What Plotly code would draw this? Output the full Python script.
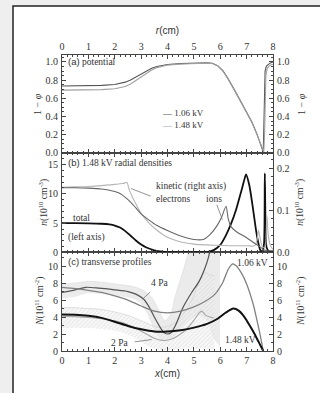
import plotly.graph_objects as go

# ---------------- Panel (a): potential ----------------
pot_x_106 = [0, 0.5, 1.0, 1.5, 2.0, 2.2, 2.4, 2.6, 2.8, 3.0, 3.2, 3.4, 3.6, 3.8, 4.0, 4.5, 5.0, 5.5, 5.7, 5.9, 6.1, 6.3, 6.6, 6.9, 7.2, 7.4, 7.55, 7.63, 7.65, 7.67, 7.7, 7.75, 7.82, 7.9, 8.0]
pot_y_106 = [0.735, 0.736, 0.738, 0.742, 0.752, 0.762, 0.778, 0.802, 0.835, 0.87, 0.903, 0.93, 0.95, 0.963, 0.972, 0.982, 0.988, 0.99, 0.985, 0.96, 0.905, 0.815, 0.66, 0.5, 0.34, 0.2, 0.09, 0.01, 0.25, 0.7, 0.9, 0.955, 0.975, 0.99, 1.0]
pot_x_148 = [0, 0.5, 1.0, 1.5, 2.0, 2.2, 2.4, 2.6, 2.8, 3.0, 3.2, 3.4, 3.6, 3.8, 4.0, 4.5, 5.0, 5.5, 5.7, 5.9, 6.1, 6.3, 6.6, 6.9, 7.2, 7.4, 7.55, 7.65, 7.68, 7.7, 7.73, 7.78, 7.85, 7.93, 8.0]
pot_y_148 = [0.69, 0.69, 0.692, 0.696, 0.705, 0.714, 0.73, 0.757, 0.795, 0.838, 0.878, 0.912, 0.938, 0.955, 0.966, 0.978, 0.985, 0.988, 0.984, 0.958, 0.9, 0.81, 0.655, 0.495, 0.335, 0.195, 0.085, 0.01, 0.2, 0.6, 0.85, 0.93, 0.955, 0.97, 0.975]

# ---------------- Panel (b): 1.48 kV radial densities ----------------
tot_x = [0, 0.5, 1.0, 1.5, 1.8, 2.0, 2.2, 2.4, 2.6, 2.8, 3.0, 3.2, 3.5, 3.8, 4.2, 5.0, 5.5, 5.75, 6.0, 6.2, 6.4, 6.6, 6.8, 6.95, 6.98, 7.1, 7.25, 7.35, 7.45, 7.52, 7.6, 7.66, 7.69, 7.72, 7.76, 7.85, 8.0]
tot_y = [5.0, 5.0, 4.98, 4.9, 4.78, 4.6, 4.25, 3.65, 2.85, 2.05, 1.35, 0.85, 0.38, 0.16, 0.07, 0.05, 0.08, 0.4, 1.3, 2.8, 4.8, 7.3, 10.5, 13.0, 13.3, 11.5, 7.2, 4.0, 1.5, 0.4, 0.15, 1.5, 13.5, 4.0, 0.8, 0.2, 0.1]

ion_x = [0, 0.5, 1.0, 1.5, 1.8, 2.0, 2.2, 2.4, 2.6, 2.8, 3.0, 3.3, 3.6, 4.0, 4.5, 5.0, 5.35, 5.6, 5.86, 6.05, 6.22, 6.3, 6.4, 6.6, 7.0, 7.3, 7.5, 7.62, 7.7, 7.8, 8.0]
ion_y = [0.154, 0.154, 0.153, 0.151, 0.148, 0.145, 0.140, 0.131, 0.120, 0.106, 0.092, 0.077, 0.064, 0.052, 0.039, 0.031, 0.031, 0.042, 0.062, 0.084, 0.110, 0.081, 0.062, 0.050, 0.035, 0.022, 0.014, 0.008, 0.005, 0.004, 0.004]

ele_x = [0, 0.5, 1.0, 1.5, 2.0, 2.3, 2.47, 2.52, 2.58, 2.7, 2.85, 3.0, 3.3, 3.6, 4.0, 4.5, 5.0, 5.5, 6.0, 6.5, 7.0, 7.3, 7.4, 7.45, 7.52, 7.6, 7.7, 7.74, 7.77, 7.82, 7.9, 8.0]
ele_y = [0.155, 0.156, 0.157, 0.159, 0.162, 0.164, 0.166, 0.155, 0.144, 0.128, 0.110, 0.093, 0.070, 0.053, 0.036, 0.025, 0.020, 0.018, 0.017, 0.016, 0.016, 0.016, 0.031, 0.053, 0.031, 0.014, 0.012, 0.042, 0.088, 0.042, 0.017, 0.007]

# ---------------- Panel (c): transverse profiles ----------------
kv106_x = [0, 0.5, 1.0, 1.5, 2.0, 2.5, 3.0, 3.5, 4.0, 4.5, 5.0, 5.4, 5.8, 6.1, 6.3, 6.47, 6.6, 6.8, 7.0, 7.25, 7.4, 7.5, 7.63]
kv106_y = [7.5, 7.35, 7.15, 6.9, 6.5, 6.0, 5.3, 4.7, 4.5, 4.7, 5.2, 5.8, 6.7, 8.1, 9.6, 10.25, 10.05, 9.2, 7.9, 5.5, 3.5, 2.1, 0.0]

kv148_x = [0, 0.5, 1.0, 1.5, 2.0, 2.5, 3.0, 3.5, 4.0, 4.5, 5.0, 5.5, 5.9, 6.2, 6.5, 6.7, 6.87, 7.0, 7.25, 7.45, 7.63]
kv148_y = [4.3, 4.28, 4.15, 3.9, 3.45, 2.95, 2.55, 2.3, 2.3, 2.45, 2.75, 3.2, 3.8, 4.5, 5.0, 4.75, 4.2, 3.6, 2.3, 1.1, 0.0]

pa4_x = [0, 0.5, 0.9, 1.4, 2.0, 2.5, 2.8, 3.1, 3.3, 3.5, 3.7, 3.85, 4.0, 4.15, 4.3, 4.6, 4.9, 5.2, 5.4, 5.55, 5.65]
pa4_y = [6.9, 7.2, 7.5, 7.4, 7.2, 7.0, 6.7, 6.1, 5.2, 4.0, 2.9, 2.2, 2.0, 2.2, 3.0, 5.2, 6.8, 8.2, 9.6, 11.0, 12.5]
pa4_band_x = [0, 0.5, 1.0, 1.5, 2.0, 2.5, 2.8, 3.1, 3.4, 3.7, 3.9, 4.1, 4.3, 4.6, 4.9, 5.2, 5.5, 5.75, 5.99]
pa4_hi = [7.9, 8.0, 8.2, 8.1, 7.9, 7.7, 7.5, 7.1, 6.3, 4.6, 3.6, 4.2, 6.5, 9.5, 12.0, 12.0, 12.0, 12.0, 12.0]
pa4_lo = [6.2, 6.4, 6.8, 6.7, 6.5, 6.3, 6.0, 5.1, 3.2, 1.5, 1.1, 1.3, 2.0, 3.0, 3.8, 4.2, 3.5, 1.5, 0.5]

pa2_x = [0, 0.5, 1.0, 1.5, 2.0, 2.5, 2.9, 3.2, 3.5, 3.8, 4.1, 4.4, 4.7, 5.0, 5.2, 5.3, 5.45, 5.6, 5.75]
pa2_y = [4.1, 4.05, 3.95, 3.8, 3.55, 3.1, 2.5, 2.0, 1.5, 1.25, 1.35, 1.8, 2.5, 3.6, 4.5, 4.7, 4.2, 4.0, 3.9]
pa2_band_x = [0, 0.5, 1.0, 1.5, 2.0, 2.5, 2.9, 3.2, 3.5, 3.8, 4.1, 4.4, 4.7, 5.0, 5.2, 5.4, 5.6, 5.78]
pa2_hi = [5.1, 5.1, 5.0, 4.9, 4.6, 4.2, 3.7, 3.3, 2.9, 2.8, 3.0, 3.6, 4.8, 6.5, 8.3, 9.2, 9.0, 8.8]
pa2_lo = [2.7, 2.7, 2.7, 2.6, 2.4, 1.9, 1.3, 0.7, 0.3, 0.1, 0.1, 0.2, 0.3, 0.3, 0.3, 0.3, 0.2, 0.2]

x_ticks = [0, 1, 2, 3, 4, 5, 6, 7, 8]

SERIF = "Liberation Serif"
SANS = "Liberation Sans"
AX = "#444"
TXT = "#333"

fig = go.Figure()

def line(x, y, xa, ya, color, width, shape="spline"):
    fig.add_trace(go.Scatter(x=x, y=y, xaxis=xa, yaxis=ya, mode="lines",
                             line=dict(color=color, width=width, shape=shape, smoothing=0.7),
                             showlegend=False, hoverinfo="skip"))

# Panel (c) bands
fig.add_trace(go.Scatter(x=pa4_band_x, y=pa4_lo, xaxis="x", yaxis="y", mode="lines",
                         line=dict(width=0, shape="spline"), showlegend=False, hoverinfo="skip"))
fig.add_trace(go.Scatter(x=pa4_band_x, y=pa4_hi, xaxis="x", yaxis="y", mode="lines",
                         line=dict(width=0.6, color="#dcdcdc", shape="spline"), fill="tonexty",
                         fillcolor="rgba(205,205,205,0.4)", showlegend=False, hoverinfo="skip"))
fig.add_trace(go.Scatter(x=pa2_band_x, y=pa2_lo, xaxis="x", yaxis="y", mode="lines",
                         line=dict(width=0, shape="spline"), showlegend=False, hoverinfo="skip"))
fig.add_trace(go.Scatter(x=pa2_band_x, y=pa2_hi, xaxis="x", yaxis="y", mode="lines",
                         line=dict(width=0.6, color="#cfcfcf", shape="spline"), fill="tonexty",
                         fillcolor="rgba(0,0,0,0)",
                         fillpattern=dict(shape="/", fgcolor="#b8b8b8", bgcolor="rgba(240,240,240,0.5)", size=3, solidity=0.2),
                         showlegend=False, hoverinfo="skip"))
line(pa2_x, pa2_y, "x", "y", "#a8a8a8", 1.1)
line(pa4_x, pa4_y, "x", "y", "#555555", 1.2)
line(kv106_x, kv106_y, "x", "y", "#808080", 1.3)
line(kv148_x, kv148_y, "x", "y4", "#111111", 2.0)   # right axis has the same scale as the left one

# Panel (b)
line(ele_x, ele_y, "x2", "y5", "#b5b5b5", 1.1)
line(ion_x, ion_y, "x2", "y5", "#666666", 1.1)
line(tot_x, tot_y, "x2", "y2", "#111111", 1.8)

# Panel (a)
line(pot_x_148, pot_y_148, "x3", "y6", "#a0a0a0", 1.1, shape="linear")  # same scale on both sides
line(pot_x_106, pot_y_106, "x3", "y3", "#555555", 1.1, shape="linear")

tickfont = dict(family=SERIF, size=10, color=TXT)

def xax(domain_anchor, side="bottom", labels=False, title=None):
    d = dict(range=[0, 8], tickvals=x_ticks, ticks="inside", ticklen=4, tickwidth=1,
             tickcolor=AX, showline=True, linecolor=AX, linewidth=1, mirror="ticks",
             showgrid=False, zeroline=False, showticklabels=labels, side=side,
             anchor=domain_anchor, tickfont=tickfont,
             minor=dict(ticks="inside", ticklen=2, tickcolor=AX, dtick=0.2, showgrid=False))
    if title:
        d["title"] = dict(text=title, font=dict(family=SANS, size=10, color=TXT), standoff=4)
    return d

def yax(domain, rng, tickvals, fmt, side="left", overlay=None, anchor=None, minor_dt=None):
    d = dict(range=rng, tickvals=tickvals, ticks="inside", ticklen=4, tickwidth=1,
             tickcolor=AX, showline=True, linecolor=AX, linewidth=1,
             showgrid=False, zeroline=False, side=side, tickfont=tickfont,
             tickformat=fmt, ticklabelstandoff=1)
    if minor_dt:
        d["minor"] = dict(ticks="inside", ticklen=2, tickcolor=AX, dtick=minor_dt, showgrid=False)
    if overlay:
        d["overlaying"] = overlay
    else:
        d["domain"] = domain
    if anchor:
        d["anchor"] = anchor
    return d

dc = [0.0, 0.3328]
db = [0.3328, 0.6696]
da = [0.6696, 1.0]

fig.update_layout(
    width=320, height=393,
    margin=dict(l=62, r=47, t=55, b=42),
    paper_bgcolor="white", plot_bgcolor="white",
    xaxis=xax("y", labels=True, title="<i>x</i>(cm)"),
    xaxis2=xax("y2"),
    xaxis3=xax("y3", side="top", labels=True, title="<i>r</i>(cm)"),
    yaxis=yax(dc, [0, 11.6], [0, 2, 4, 6, 8, 10], "d", anchor="x", minor_dt=1),
    yaxis4=yax(None, [0, 11.6], [0, 2, 4, 6, 8, 10], "d", side="right", overlay="y", anchor="x", minor_dt=1),
    yaxis2=yax(db, [0, 17], [0, 5, 10, 15], "d", anchor="x2", minor_dt=1),
    yaxis5=yax(None, [0, 0.237], [0, 0.1, 0.2], ".1f", side="right", overlay="y2", anchor="x2", minor_dt=0.02),
    yaxis3=yax(da, [0, 1.077], [0, 0.2, 0.4, 0.6, 0.8, 1.0], ".1f", anchor="x3", minor_dt=0.05),
    yaxis6=yax(None, [0, 1.077], [0, 0.2, 0.4, 0.6, 0.8, 1.0], ".1f", side="right", overlay="y3", anchor="x3", minor_dt=0.05),
)

# Background frame (page look)
fig.add_shape(type="rect", xref="paper", yref="paper", x0=-0.32, x1=1.25, y0=-0.16, y1=1.2,
              fillcolor="#efefef", line=dict(width=0), layer="below")
fig.add_shape(type="rect", xref="paper", yref="paper", x0=-0.2322, x1=1.26, y0=-0.17, y1=1.1655,
              fillcolor="white", line=dict(color="#222", width=1.5), layer="below")

def ann(text, x, y, xref, yref, size=9.5, family=SERIF, xanchor="left", yanchor="middle", angle=0, color=TXT):
    fig.add_annotation(text=text, x=x, y=y, xref=xref, yref=yref, showarrow=False,
                       font=dict(family=family, size=size, color=color), xanchor=xanchor,
                       yanchor=yanchor, textangle=angle)

def px_x(px):
    return (px - 62) / 211.0

# y-axis titles
ann("1 − <i>φ</i>", px_x(38), (da[0] + da[1]) / 2, "paper", "paper", size=10, xanchor="center", angle=-90)
ann("1 − <i>φ</i>", px_x(302), (da[0] + da[1]) / 2, "paper", "paper", size=10, xanchor="center", angle=-90)
ann("<i>n</i>(10<sup>10</sup> cm<sup>-3</sup>)", px_x(44), (db[0] + db[1]) / 2, "paper", "paper", size=9.5, xanchor="center", angle=-90)
ann("<i>n</i>(10<sup>10</sup> cm<sup>-3</sup>)", px_x(300), (db[0] + db[1]) / 2, "paper", "paper", size=9.5, xanchor="center", angle=-90)
ann("<i>N</i>(10<sup>11</sup> cm<sup>-2</sup>)", px_x(40), (dc[0] + dc[1]) / 2, "paper", "paper", size=9.5, xanchor="center", angle=-90)
ann("<i>N</i>(10<sup>11</sup> cm<sup>-2</sup>)", px_x(301), (dc[0] + dc[1]) / 2, "paper", "paper", size=9.5, xanchor="center", angle=-90)

# Panel (a) texts
ann("<span style='font-family:Liberation Sans'>(a)</span> potential", 0.15, 1.0, "x3", "y3")
ann("<span style='color:#555'>—</span> 1.06 kV<br><span style='color:#aaa'>—</span> 1.48 kV", 3.7, 0.375, "x3", "y3", size=9)

# Panel (b) texts
ann("<span style='font-family:Liberation Sans'>(b)</span> 1.48 kV radial densities", 0.15, 15.3, "x2", "y2")
ann("kinetic (right axis)", 3.5, 11.2, "x2", "y2")
ann("electrons", 3.5, 9.2, "x2", "y2")
ann("ions", 5.4, 9.2, "x2", "y2")
ann("total", 0.35, 5.9, "x2", "y2")
ann("(left axis)", 0.15, 2.6, "x2", "y2")
fig.add_annotation(x=2.62, y=10.9, ax=3.42, ay=9.5, xref="x2", yref="y2", axref="x2", ayref="y2",
                   showarrow=True, arrowhead=0, arrowwidth=0.8, arrowcolor="#777", text="")
fig.add_annotation(x=6.08, y=5.6, ax=5.85, ay=8.4, xref="x2", yref="y2", axref="x2", ayref="y2",
                   showarrow=True, arrowhead=0, arrowwidth=0.8, arrowcolor="#777", text="")

# Panel (c) texts
ann("<span style='font-family:Liberation Sans'>(c)</span> transverse profiles", 0.15, 10.5, "x", "y")
ann("4 Pa", 3.3, 8.0, "x", "y")
ann("2 Pa", 1.8, 1.0, "x", "y")
ann("1.06 kV", 7.9, 10.4, "x", "y", xanchor="right")
ann("1.48 kV", 7.45, 1.25, "x", "y", xanchor="right")
fig.add_annotation(x=3.05, y=6.1, ax=3.4, ay=7.1, xref="x", yref="y", axref="x", ayref="y",
                   showarrow=True, arrowhead=0, arrowwidth=0.8, arrowcolor="#777", text="")
fig.add_annotation(x=3.4, y=1.35, ax=2.7, ay=1.05, xref="x", yref="y", axref="x", ayref="y",
                   showarrow=True, arrowhead=0, arrowwidth=0.8, arrowcolor="#777", text="")

fig.write_html("out.html", config={"displayModeBar": False},
               post_script="document.body.style.margin='0';document.body.style.overflow='hidden';")
